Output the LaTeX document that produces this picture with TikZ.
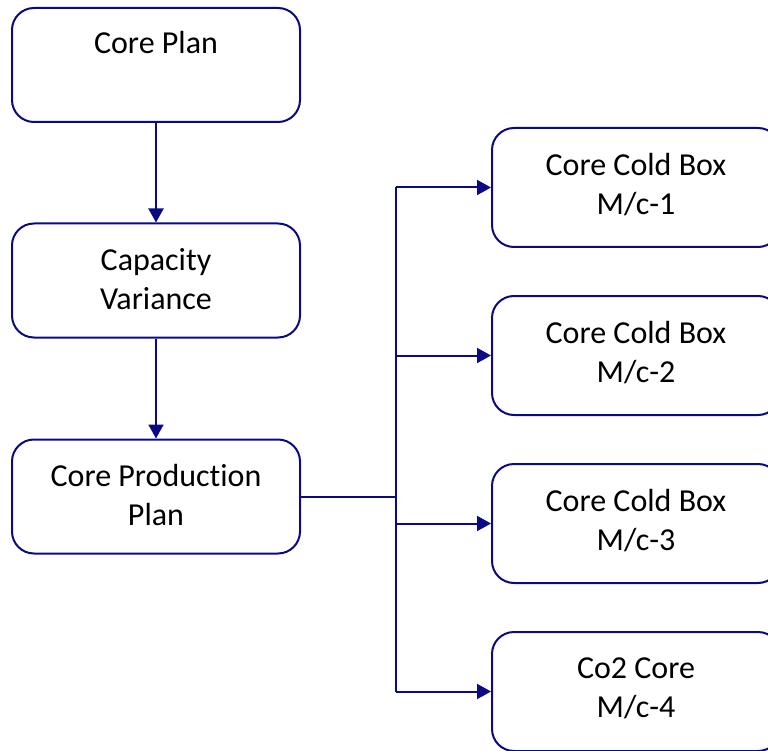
\documentclass[tikz,border=0pt]{standalone}
\usepackage{fontspec}
\setmainfont{Carlito}[Ligatures=NoCommon]
\usetikzlibrary{arrows.meta}
\definecolor{navy}{RGB}{10,10,130}
\begin{document}
\begin{tikzpicture}[x=1pt,y=-1pt,
  txt/.style={align=center,inner sep=0pt,font=\fontsize{32}{39}\selectfont,text=black},
  box/.style={draw=navy,line width=2pt,rounded corners=22pt,minimum width=288pt,inner sep=0pt},
  lbox/.style={box,minimum height=114pt},
  rbox/.style={box,minimum height=119pt},
  conn/.style={draw=navy,line width=2pt},
  arr/.style={conn,-{Triangle[length=14pt,width=15pt]}}]
\useasboundingbox (0,0) rectangle (768,751);
\node[lbox] (plan) at (156,65) {};
\node[txt] (plantxt) at (156,43) {Core Plan};
\node[lbox,label={[txt,yshift=1pt]center:Capacity\\Variance}] (cap) at (156,280.5) {};
\node[lbox,label={[txt,yshift=1pt]center:Core Production\\Plan}] (cpp) at (156,496.5) {};
\node[rbox,label={[txt,yshift=3pt]center:Core Cold Box\\M/c-1}] (r1) at (636,187.5) {};
\node[rbox,label={[txt,yshift=3pt]center:Core Cold Box\\M/c-2}] (r2) at (636,355.5) {};
\node[rbox,label={[txt,yshift=3pt]center:Core Cold Box\\M/c-3}] (r3) at (636,523.5) {};
\node[rbox,label={[txt,yshift=3pt]center:Co2 Core\\M/c-4}] (r4) at (636,691.5) {};
\draw[arr] (plan.south) -- (cap.north);
\draw[arr] (cap.south) -- (cpp.north);
\coordinate (j) at (396,496.5);
\coordinate (ttop) at (396,187.5);
\coordinate (tbot) at (396,691.5);
\draw[conn] (cpp.east) -- (j);
\draw[conn] (ttop) -- (tbot);
\draw[arr] (ttop) -- (r1.west);
\draw[arr] (r2.west -| j) -- (r2.west);
\draw[arr] (r3.west -| j) -- (r3.west);
\draw[arr] (tbot) -- (r4.west);
\end{tikzpicture}
\end{document}
